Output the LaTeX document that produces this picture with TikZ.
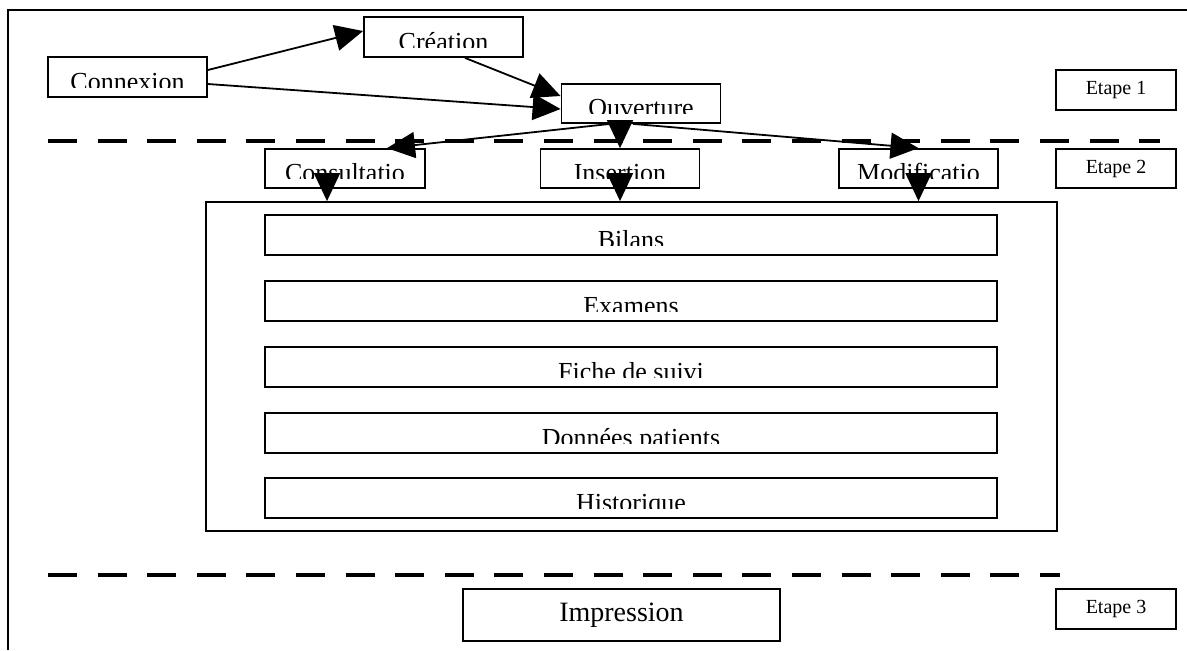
\documentclass[tikz,border=0pt]{standalone}
\usepackage{fontspec}
\setmainfont{Liberation Serif}
\usepackage{tikz}
\usetikzlibrary{arrows.meta}

\tikzset{
	box/.style={draw, line width=0.9pt, inner sep=0pt, minimum width=79.5pt, minimum height=20pt},
	cut/.style={path picture={
		\clip ([yshift=5pt]path picture bounding box.south west) rectangle (path picture bounding box.north east);
		\node[anchor=base, inner sep=0pt, font=\fontsize{13}{15}\selectfont] at ([yshift=3.5pt]path picture bounding box.south) {#1};}},
	etape/.style={box, minimum width=60pt, font=\fontsize{10}{12}\selectfont},
	arr/.style={line width=0.9pt, -{Triangle[length=14pt,width=13pt]}},
	sep/.style={line width=2.4pt, dash pattern=on 14.5pt off 10.3pt}
}

\begin{document}
\begin{tikzpicture}[x=0.5pt, y=-0.5pt]
	\useasboundingbox (0,0) rectangle (1187,650);
	\draw[line width=1pt] (8,650) -- (8,10) -- (1187,10);
	\node[box, cut=Connexion] (conn) at (127.5,77) {};
	\node[box, cut=Création] (crea) at (443.5,37) {};
	\node[box, cut=Ouverture, minimum height=19.5pt] (ouv) at (641,103.5) {};
	\node[etape] (e1) at (1116,90) {Etape 1};
	\draw[sep] (48,141) -- (1160,141);
	\node[box, cut=Consultatio, minimum width=80pt, minimum height=19.5pt] (cons) at (345,168.5) {};
	\node[box, cut=Insertion, minimum height=19.5pt] (ins) at (620,168.5) {};
	\node[box, cut=Modificatio, minimum height=19.5pt] (modi) at (918.5,168.5) {};
	\node[etape, minimum height=19.5pt] (e2) at (1116,168.5) {Etape 2};
	\node[box, minimum width=425.5pt, minimum height=164.5pt] (cont) at (631.5,366.5) {};
	\node[box, cut=Bilans, minimum width=366pt] (bil) at (631,235) {};
	\node[box, cut=Examens, minimum width=366pt] (exa) at (631,301) {};
	\node[box, cut=Fiche de suivi, minimum width=366pt] (fic) at (631,367) {};
	\node[box, cut=Données patients, minimum width=366pt] (don) at (631,433) {};
	\node[box, cut=Historique, minimum width=366pt] (his) at (631,498) {};
	\draw[sep] (48,575) -- (1060,575);
	\node[box, minimum width=158.5pt, minimum height=26pt, font=\fontsize{14}{16}\selectfont] (impr) at (621.5,615) {Impression};
	\node[etape] (e3) at (1116,609) {Etape 3};
	\draw[arr] ([yshift=3.5pt]conn.east) -- ([yshift=3pt]crea.west);
	\draw[arr] ([xshift=10.75pt]crea.south) -- ([yshift=3.75pt]ouv.west);
	\draw[arr] ([yshift=-3.5pt]conn.east) -- ([yshift=-2.75pt]ouv.west);
	\draw[arr] ([xshift=-15.5pt]ouv.south) -- ([xshift=21pt]cons.north);
	\draw[arr] ([xshift=-10.5pt]ouv.south) -- (ins.north);
	\draw[arr] ([xshift=-4pt]ouv.south) -- (modi.north);
	\draw[arr] ([xshift=-9pt]cons.south) -- ([xshift=-9pt]cons.south |- cont.north);
	\draw[arr] (ins.south) -- (ins.south |- cont.north);
	\draw[arr] (modi.south) -- (modi.south |- cont.north);
\end{tikzpicture}
\end{document}
